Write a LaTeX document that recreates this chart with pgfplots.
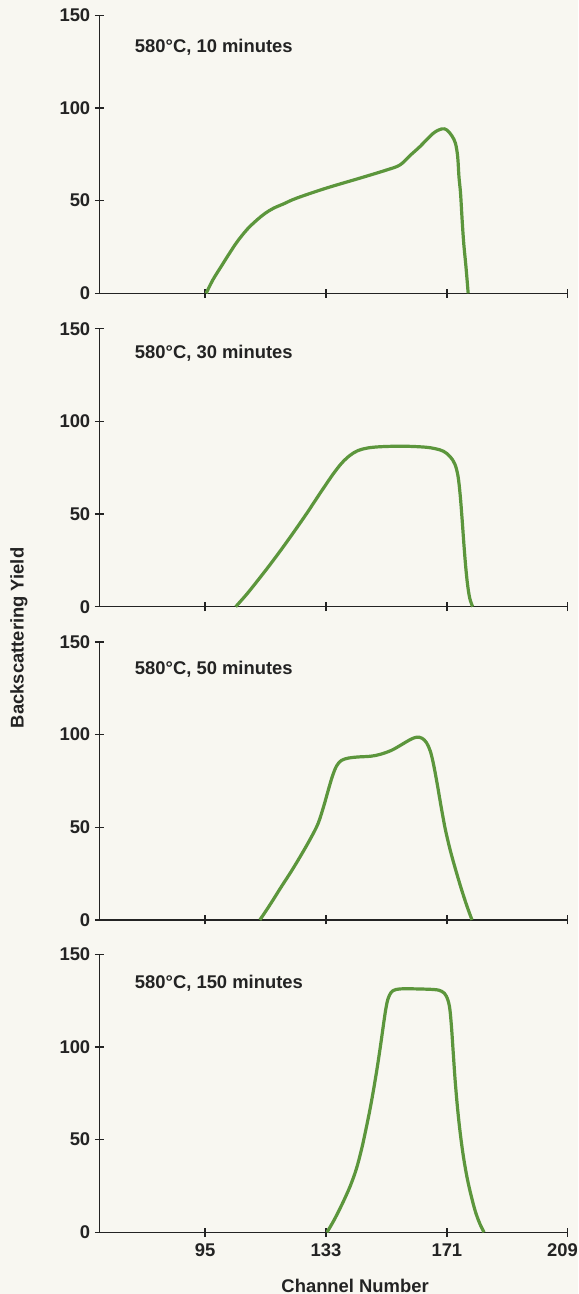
\documentclass[border=0pt]{standalone}
\usepackage{pgfplots}
\pgfplotsset{compat=1.18}
\usepackage{fontspec}
\setmainfont{Liberation Sans}
\definecolor{curve}{RGB}{92,150,60}
\definecolor{bg}{RGB}{248,247,241}
\definecolor{ax}{RGB}{35,35,35}
\newcommand{\lf}{\bfseries\fontsize{9.2}{11}\selectfont}
\pgfplotsset{
 cv/.style={line width=1.6pt, color=curve, smooth, tension=0.55, no marks},
 panel/.style={
  scale only axis, width=234.2pt, height=139pt,
  xmin=61.7, xmax=209, ymin=0, ymax=150,
  axis x line=bottom, axis y line=left,
  axis line style={-, line width=0.7pt, draw=ax},
  xtick={95,133,171}, ytick={0,50,100,150},
  extra x ticks={209},
  tick align=center, major tick length=4.4pt,
  tick style={line width=0.7pt, draw=ax},
  ticklabel style={font=\lf, text=ax},
  yticklabel style={xshift=1.2pt},
  /pgf/number format/assume math mode=true,
  clip=false, anchor=south west,
 }}
\begin{document}
\begin{tikzpicture}
\path[use as bounding box, fill=bg] (-49.65pt,-30.85pt) rectangle (239.35pt,616.15pt);
% Panel 1
\begin{axis}[panel, at={(0pt,469.5pt)}, xticklabels={}, extra x tick labels={}]
\addplot[cv] coordinates {(95.3,0) (97.4,7.2) (100,14.4) (102.5,21.2) (105.1,27.9) (108.2,34.5) (111.3,39.6) (113.9,43.2) (116.5,45.9) (119.6,48.2) (123.7,51.3) (133,56.7) (143.6,62.1) (152,66.5) (156.2,69.2) (159.4,74.3) (162.5,79.1) (166.7,86.3) (169.4,88.7) (171,88.1) (172.6,84.9) (173.7,80.9) (174.4,73.7) (174.8,62.9) (175.3,54) (175.8,39.6) (176.3,27) (177,14.4) (177.7,0)};
\node[anchor=west, font=\lf, text=ax] at (axis cs:70.7,132.5) {580°C, 10 minutes};
\end{axis}
% Panel 2
\begin{axis}[panel, at={(0pt,312.8pt)}, xticklabels={}, extra x tick labels={}]
\addplot[cv] coordinates {(104.6,0) (108,6.6) (111,13.0) (115,21.8) (119,31.0) (123,40.6) (127,50.5) (130,58.3) (133,66.0) (135.5,72.2) (138,77.6) (140.5,81.6) (143,84.2) (146,85.6) (150,86.3) (157,86.6) (164,86.1) (167.5,85.2) (170,83.8) (172,81.0) (173.5,77.0) (174.5,70.5) (175.2,60) (175.8,47) (176.3,35) (176.9,22) (177.5,12) (178.2,4.5) (179.1,0)};
\node[anchor=west, font=\lf, text=ax] at (axis cs:70.7,136.5) {580°C, 30 minutes};
\end{axis}
% Panel 3
\begin{axis}[panel, at={(0pt,156.2pt)}, xticklabels={}, extra x tick labels={}]
\addplot[cv] coordinates {(112.2,0) (115.5,8.5) (118.8,17.5) (122,26) (125,34.5) (128,43.5) (130.5,52) (132.3,61.5) (133.7,70) (135,77.5) (136.3,83) (137.8,86) (140,87.3) (143,87.9) (147,88.3) (150,89.3) (153.6,91.5) (157,94.8) (159.5,97.3) (161.5,98.6) (163.2,98) (164.6,95.6) (165.8,91) (166.8,84) (168,73) (169.2,61) (170.5,49) (172,38) (173.6,28) (175.5,17) (177.3,7.5) (178.9,0)};
\node[anchor=west, font=\lf, text=ax] at (axis cs:70.7,135) {580°C, 50 minutes};
\end{axis}
% Panel 4
\begin{axis}[panel, at={(0pt,0pt)}, extra x tick style={xticklabel style={xshift=-2.6pt}}]
\addplot[cv] coordinates {(133.3,0) (135.5,6.5) (138,15) (140.5,24.5) (142.5,34) (144.2,45) (145.6,56) (146.9,67) (148.1,78.5) (149.2,90) (150.2,101.5) (151.1,112.5) (151.8,120.5) (152.5,126) (153.5,129.5) (155,131) (158.3,131.4) (166.8,131) (169.4,130) (170.8,127.5) (171.8,122) (172.4,112) (173,97) (173.6,82) (174.3,68) (175.1,55) (176.1,42) (177.3,30) (178.6,20) (180,11) (181.4,4.5) (182.7,0)};
\node[anchor=west, font=\lf, text=ax] at (axis cs:70.7,134.5) {580°C, 150 minutes};
\end{axis}
\node[rotate=90, font=\lf, text=ax] at (-40.2pt,297.2pt) {Backscattering Yield};
\node[font=\lf, text=ax] at (127.9pt,-26.9pt) {Channel Number};
\end{tikzpicture}
\end{document}
